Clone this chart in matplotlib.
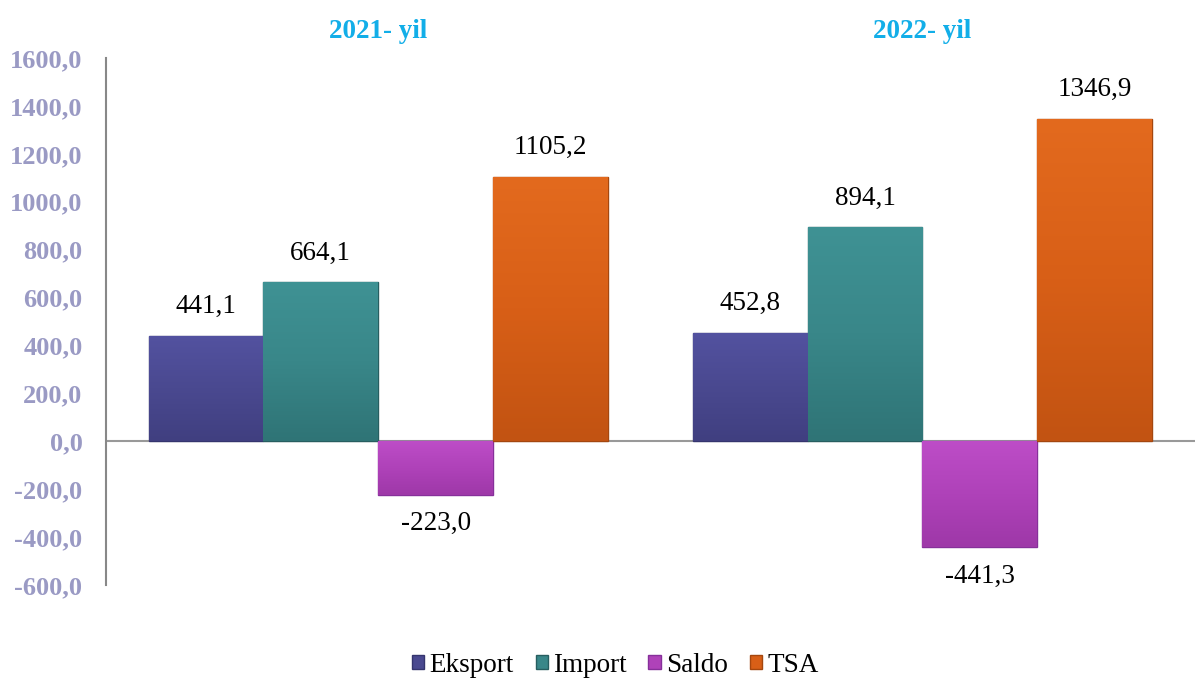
import matplotlib
matplotlib.use("Agg")
import matplotlib.pyplot as plt
import numpy as np
from matplotlib.colors import LinearSegmentedColormap

years = ["2021- yil", "2022- yil"]
series = ["Eksport", "Import", "Saldo", "TSA"]
eksport = [441.1, 452.8]
import_ = [664.1, 894.1]
saldo = [-223.0, -441.3]
tsa = [1105.2, 1346.9]
colors = ["#4A4990", "#398789", "#AF42B9", "#D85F17"]
tops = ["#5352A0", "#3F9294", "#BD4DC7", "#E36A1E"]
bottoms = ["#403F80", "#2F7476", "#9E38A8", "#C25312"]
edges = ["#35356E", "#275E60", "#86309A", "#A4470F"]
yticks = list(range(-600, 1601, 200))

plt.rcParams['font.family'] = ['Liberation Serif', 'DejaVu Serif']

fig = plt.figure(figsize=(11.97, 6.8), dpi=100)
ax = fig.add_axes([0.0886, 0.1397, 0.9094, 0.775])

x = np.arange(len(years))
w = 0.211
data = [eksport, import_, saldo, tsa]
offsets = [-1.5, -0.5, 0.5, 1.5]
grad = np.linspace(0, 1, 256).reshape(-1, 1)
for vals, off, c, t, bt, e, name in zip(data, offsets, colors, tops, bottoms, edges, series):
    bars = ax.bar(x + off * w, vals, w, color=c, edgecolor=e, linewidth=1.0, label=name, zorder=3)
    cmap = LinearSegmentedColormap.from_list("g", [bt, c, t])
    for b, v in zip(bars, vals):
        x0 = b.get_x(); x1 = x0 + b.get_width()
        y0 = min(0, v); y1 = max(0, v)
        im = ax.imshow(grad, cmap=cmap, extent=[x0, x1, y0, y1], origin="lower",
                       aspect="auto", zorder=3.5, interpolation="bilinear")
        im.set_clip_path(b)
        lbl = f"{v:.1f}".replace(".", ",")
        if v >= 0:
            ax.annotate(lbl, (b.get_x() + b.get_width() / 2, v), xytext=(0, 21),
                        textcoords="offset points", ha="center", va="center", fontsize=19.5)
        else:
            ax.annotate(lbl, (b.get_x() + b.get_width() / 2, v), xytext=(0, -21),
                        textcoords="offset points", ha="center", va="center", fontsize=19.5)

ax.set_xlim(-0.5, 1.5)
ax.set_ylim(-600, 1600)
ax.set_yticks(yticks)
ax.set_yticklabels([f"{t:.1f}".replace(".", ",") for t in yticks], fontsize=19,
                   fontweight="bold", color="#9A9AC4")
ax.tick_params(axis="y", length=0, pad=17)
ax.set_xticks([])
for s in ["top", "right", "bottom"]:
    ax.spines[s].set_visible(False)
ax.spines["left"].set_color("#888888")
ax.spines["left"].set_linewidth(1.5)
ax.axhline(0, color="#999999", linewidth=1.5, zorder=2)

for xi, yr in zip(x, years):
    ax.text(xi, 1.05, yr, transform=ax.get_xaxis_transform(), ha="center", va="center",
            fontsize=19.5, fontweight="bold", color="#12AEE8")

leg = fig.legend(loc="center", bbox_to_anchor=(0.514, 0.022), ncol=4, frameon=False,
                 fontsize=19.5, handlelength=0.45, handleheight=0.45, handletextpad=0.2,
                 columnspacing=0.8)

fig.savefig("out.png", dpi=100)
